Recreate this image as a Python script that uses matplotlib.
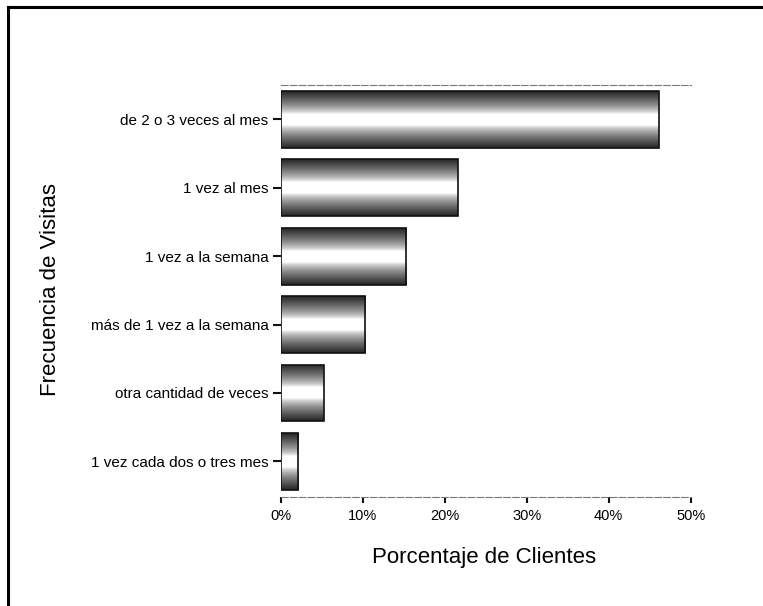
import numpy as np
import matplotlib
matplotlib.use("Agg")
from matplotlib import pyplot as plt
from matplotlib.lines import Line2D
from matplotlib.ticker import FuncFormatter

plt.rcParams["font.family"] = ["Liberation Sans", "DejaVu Sans"]

categories = [
    "1 vez cada dos o tres mes",
    "otra cantidad de veces",
    "más de 1 vez a la semana",
    "1 vez a la semana",
    "1 vez al mes",
    "de 2 o 3 veces al mes",
]
percentages = [2.1, 5.2, 10.3, 15.3, 21.6, 46.1]
xticks = [0, 10, 20, 30, 40, 50]


def shaded_bar(ax, patch):
    # vertical shading: dark at top/bottom edges, white in the middle
    x0, y0 = patch.get_x(), patch.get_y()
    w, h = patch.get_width(), patch.get_height()
    t = np.linspace(-1, 1, 200)
    shade = 1 - np.clip((np.abs(t) - 0.2) / 0.8, 0, 1) ** 0.7 * 0.85
    img = np.tile(shade[:, None], (1, 10))
    im = ax.imshow(img, cmap="gray", vmin=0, vmax=1, aspect="auto",
                   extent=[x0, x0 + w, y0, y0 + h], origin="lower",
                   interpolation="bilinear", zorder=2)
    im.set_clip_path(patch)


fig = plt.figure(figsize=(7.63, 6.06), dpi=100)
ax = fig.add_axes([0.3683, 0.1799, 0.9052 - 0.3683, 0.8597 - 0.1799])

pos = np.arange(len(categories))
bars = ax.barh(pos, percentages, height=0.83, facecolor="none",
               edgecolor="#111111", linewidth=1.2, zorder=3)
for b in bars:
    shaded_bar(ax, b)

ax.set_xlim(0, 50)
ax.set_ylim(-0.52, len(categories) - 0.5)
ax.set_xticks(xticks)
ax.xaxis.set_major_formatter(FuncFormatter(lambda v, p: f"{v:.0f}%"))
ax.set_yticks(pos)
ax.set_yticklabels(categories, fontsize=11)
for lbl in ax.get_xticklabels():
    lbl.set_fontsize(10.5)

ax.tick_params(axis="y", length=6, width=1.5, pad=3, color="#111111")
ax.tick_params(axis="x", length=4, width=1.5, pad=5, color="#111111")

for side in ["left", "right"]:
    ax.spines[side].set_visible(False)
for side in ["top", "bottom"]:
    ax.spines[side].set_color("#777777")
    ax.spines[side].set_linewidth(0.8)
    ax.spines[side].set_linestyle((0, (6, 2)))

fig.text(484 / 763, 1 - 558 / 606, "Porcentaje de Clientes", fontsize=16,
         ha="center", va="center")
fig.text(51 / 763, 1 - 289 / 606, "Frecuencia de Visitas", fontsize=16,
         ha="center", va="center", rotation=90)

# page frame: left and top edges
fig.add_artist(Line2D([8 / 763, 8 / 763], [0, 1 - 7 / 606], color="black",
                      linewidth=2.2, transform=fig.transFigure))
fig.add_artist(Line2D([8 / 763, 1], [1 - 7 / 606, 1 - 7 / 606], color="black",
                      linewidth=2.2, transform=fig.transFigure))

fig.savefig("out.png", dpi=100)
